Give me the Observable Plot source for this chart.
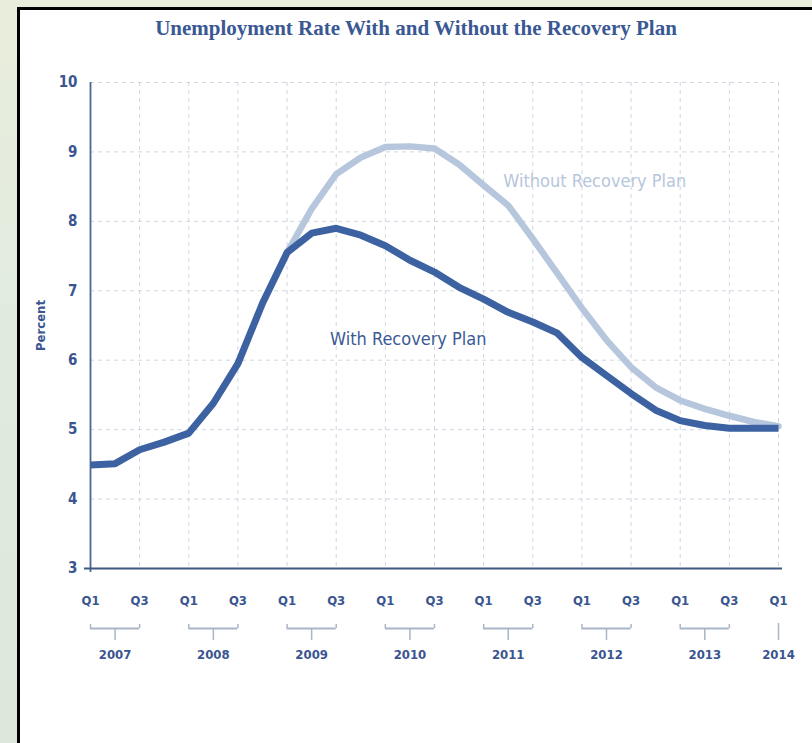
<!DOCTYPE html>
<html>
<head>
<meta charset="utf-8">
<script src="https://cdn.jsdelivr.net/npm/d3@7"></script>
<script src="https://cdn.jsdelivr.net/npm/@observablehq/plot@0.6"></script>
<style>
  html, body { margin: 0; padding: 0; }
  body { width: 812px; height: 743px; position: relative; overflow: hidden;
         background: linear-gradient(180deg, #e9eddb 0%, #e1ebdf 40%, #dde8dc 100%); }
  #panel { position: absolute; left: 17px; top: 7px; width: 800px; height: 740px;
           background: #fff; border-left: 3px solid #000; border-top: 3px solid #000; }
  #title { position: absolute; left: 20px; top: 16px; width: 792px; text-align: center;
           font-family: "Liberation Serif", "DejaVu Serif", serif; font-weight: bold;
           font-size: 21px; color: #3a5893; letter-spacing: 0px; }
  #chart { position: absolute; left: 20px; top: 10px; }
</style>
</head>
<body>
<div id="panel"></div>
<div id="title">Unemployment Rate With and Without the Recovery Plan</div>
<div id="chart"></div>
<script>
// Quarter index 0 = 2007 Q1 ... 28 = 2014 Q1
const quarterIndex = [0,1,2,3,4,5,6,7,8,9,10,11,12,13,14,15,16,17,18,19,20,21,22,23,24,25,26,27,28];
const withPlan = [4.49, 4.51, 4.71, 4.82, 4.95, 5.38, 5.95, 6.82, 7.55, 7.83, 7.90, 7.80, 7.65, 7.44, 7.27, 7.05, 6.88, 6.69, 6.55, 6.39, 6.04, 5.78, 5.52, 5.28, 5.13, 5.06, 5.02, 5.02, 5.02];
const withoutIndex = [8,9,10,11,12,13,14,15,16,17,18,19,20,21,22,23,24,25,26,27,28];
const withoutPlan = [7.55, 8.18, 8.68, 8.92, 9.07, 9.08, 9.05, 8.82, 8.52, 8.23, 7.75, 7.25, 6.75, 6.29, 5.90, 5.61, 5.42, 5.30, 5.20, 5.11, 5.05];

const yTicks = [3,4,5,6,7,8,9,10];
const qTickIndex = [0,2,4,6,8,10,12,14,16,18,20,22,24,26,28];
const qTickLabels = ["Q1","Q3","Q1","Q3","Q1","Q3","Q1","Q3","Q1","Q3","Q1","Q3","Q1","Q3","Q1"];
const years = ["2007","2008","2009","2010","2011","2012","2013","2014"];
const yearStart = [0,4,8,12,16,20,24,28];
const yearEnd   = [2,6,10,14,18,22,26,28];
const yearMid   = [1,5,9,13,17,21,25,28];

const seriesLabels = ["Without Recovery Plan", "With Recovery Plan"];
const seriesLabelX = [16.8, 9.75];
const seriesLabelY = [8.58, 6.3];

const dark = "#3d62a2";
const light = "#b6c6dc";
const textBlue = "#3a5590";
const gridCol = "#cfd6e0";

const withData = quarterIndex.map((q, i) => ({q, v: withPlan[i]}));
const withoutData = withoutIndex.map((q, i) => ({q, v: withoutPlan[i]}));
const qTicks = qTickIndex.map((q, i) => ({q, label: qTickLabels[i]}));
const yearData = years.map((y, i) => ({year: y, start: yearStart[i], end: yearEnd[i], mid: yearMid[i]}));
const brackets = yearData.filter(d => d.end > d.start);
const hookEnds = brackets.flatMap(d => [d.start, d.end]);
const labelData = seriesLabels.map((t, i) => ({t, x: seriesLabelX[i], y: seriesLabelY[i]}));

const font = "'Liberation Sans Narrow', 'DejaVu Sans Condensed', 'Roboto', sans-serif";

const chart = Plot.plot({
  width: 792,
  height: 733,
  marginLeft: 70,
  marginRight: 34,
  marginTop: 72,
  marginBottom: 175,
  style: {fontFamily: font, background: "transparent", color: textBlue, overflow: "visible"},
  x: {domain: [0, 28], axis: null},
  y: {domain: [3, 10], axis: null},
  marks: [
    Plot.ruleY(yTicks.filter(d => d > 3), {stroke: gridCol, strokeWidth: 1, strokeDasharray: "4,4"}),
    Plot.ruleX(qTickIndex.filter(d => d > 0), {stroke: gridCol, strokeWidth: 1, strokeDasharray: "4,4"}),
    Plot.ruleX([0], {stroke: "#4a6596", strokeWidth: 1.8, insetBottom: -4}),
    Plot.ruleY([3], {stroke: "#3f5880", strokeWidth: 2, insetLeft: -6, insetRight: -4}),
    Plot.line(withoutData, {x: "q", y: "v", stroke: light, strokeWidth: 6.5, curve: "linear", strokeLinejoin: "round", strokeLinecap: "round"}),
    Plot.line(withData, {x: "q", y: "v", stroke: dark, strokeWidth: 7, curve: "linear", strokeLinejoin: "round", strokeLinecap: "butt"}),
    Plot.text(yTicks, {y: d => d, text: d => String(d), frameAnchor: "left", textAnchor: "end", dx: -13, fontSize: 15, fontWeight: "bold", fill: textBlue}),
    Plot.text(["Percent"], {text: d => d, frameAnchor: "left", textAnchor: "middle", rotate: -90, dx: -50, fontSize: 13, fontWeight: "bold", fill: textBlue, style: "letter-spacing: 2px"}),
    Plot.text(qTicks, {x: "q", text: "label", frameAnchor: "bottom", dy: 36, fontSize: 13, fontWeight: "bold", fill: textBlue}),
    Plot.ruleY(brackets, {x1: "start", x2: "end", y: 3, dy: 60, stroke: "#aab5c8", strokeWidth: 1.8}),
    Plot.ruleX(hookEnds, {x: d => d, y1: 3, y2: 3, insetTop: -4, insetBottom: 0, dy: 60, stroke: "#aab5c8", strokeWidth: 1.5}),
    Plot.ruleX(brackets, {x: "mid", y1: 3, y2: 3, insetTop: 0, insetBottom: -12, dy: 60, stroke: "#aab5c8", strokeWidth: 1.5}),
    Plot.ruleX(yearData.filter(d => d.end === d.start), {x: "mid", y1: 3, y2: 3, insetTop: 0, insetBottom: -17, dy: 55, stroke: "#aab5c8", strokeWidth: 1.5}),
    Plot.text(yearData, {x: "mid", text: "year", frameAnchor: "bottom", dy: 90, fontSize: 13, fontWeight: "bold", fill: textBlue}),
    Plot.text(labelData, {x: "x", y: "y", text: "t", textAnchor: "start", fontSize: 18, fill: (d, i) => i === 0 ? light : "#3a5a96"})
  ]
});
document.getElementById("chart").appendChild(chart);
</script>
</body>
</html>
